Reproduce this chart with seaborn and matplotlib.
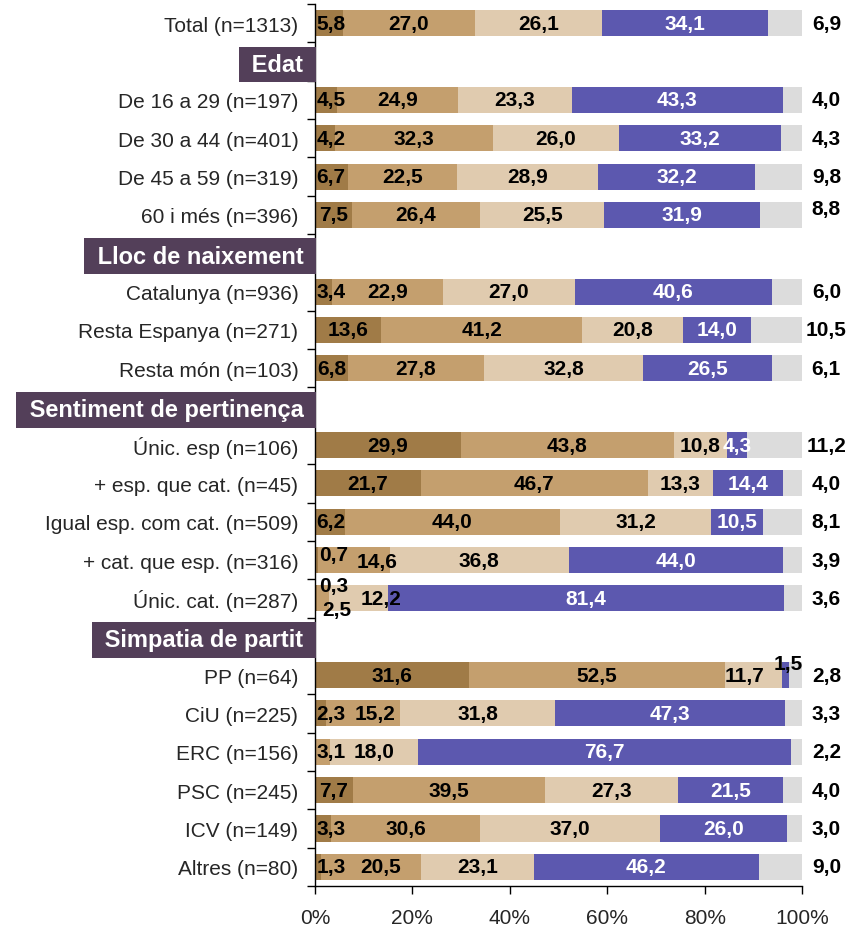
import pandas as pd
import seaborn as sns
import matplotlib.pyplot as plt

# Groups (header None = no header before the block)
headers = [None, "Edat", "Lloc de naixement", "Sentiment de pertinença", "Simpatia de partit"]
groups = [
    ["Total (n=1313)"],
    ["De 16 a 29 (n=197)", "De 30 a 44 (n=401)", "De 45 a 59 (n=319)", "60 i més (n=396)"],
    ["Catalunya (n=936)", "Resta Espanya (n=271)", "Resta món (n=103)"],
    ["Únic. esp (n=106)", "+ esp. que cat. (n=45)", "Igual esp. com cat. (n=509)",
     "+ cat. que esp. (n=316)", "Únic. cat. (n=287)"],
    ["PP (n=64)", "CiU (n=225)", "ERC (n=156)", "PSC (n=245)", "ICV (n=149)", "Altres (n=80)"],
]

# Five answer categories (dark brown, tan, beige, purple, grey)
s1 = [5.8, 4.5, 4.2, 6.7, 7.5, 3.4, 13.6, 6.8, 29.9, 21.7, 6.2, 0.7, 0.3, 31.6, 2.3, 0.0, 7.7, 3.3, 1.3]
s2 = [27.0, 24.9, 32.3, 22.5, 26.4, 22.9, 41.2, 27.8, 43.8, 46.7, 44.0, 14.6, 2.5, 52.5, 15.2, 3.1, 39.5, 30.6, 20.5]
s3 = [26.1, 23.3, 26.0, 28.9, 25.5, 27.0, 20.8, 32.8, 10.8, 13.3, 31.2, 36.8, 12.2, 11.7, 31.8, 18.0, 27.3, 37.0, 23.1]
s4 = [34.1, 43.3, 33.2, 32.2, 31.9, 40.6, 14.0, 26.5, 4.3, 14.4, 10.5, 44.0, 81.4, 1.5, 47.3, 76.7, 21.5, 26.0, 46.2]
s5 = [6.9, 4.0, 4.3, 9.8, 8.8, 6.0, 10.5, 6.1, 11.2, 4.0, 8.1, 3.9, 3.6, 2.8, 3.3, 2.2, 4.0, 3.0, 9.0]

colors = ["#A07B47", "#C49F6E", "#E0CBAF", "#5C58AF", "#DCDCDC"]
header_color = "#533F59"

# slot order including header rows
order = []
for h, rows in zip(headers, groups):
    if h:
        order.append(h)
    order += rows
labels = [r for rows in groups for r in rows]

df = pd.DataFrame({"label": labels, "s1": s1, "s2": s2, "s3": s3, "s4": s4, "s5": s5})
series = ["s1", "s2", "s3", "s4", "s5"]
cum = df[series].cumsum(axis=1)

# manual label tweaks (x position in %, y offset in pixels) where Excel moved labels
tweaks = {
    ("+ cat. que esp. (n=316)", 0): (3.9, 6),
    ("+ cat. que esp. (n=316)", 1): (12.8, -1),
    ("Únic. cat. (n=287)", 0): (3.9, 13),
    ("Únic. cat. (n=287)", 1): (4.5, -11),
    ("Únic. cat. (n=287)", 2): (13.5, 0),
    ("PP (n=64)", 2): (88.2, 0),
    ("PP (n=64)", 3): (97.1, 12),
    ("CiU (n=225)", 1): (12.3, 0),
    ("Altres (n=80)", 1): (13.4, 0),
    ("60 i més (n=396)", 4): (105, 6),
}

sns.set_style("ticks")
plt.rcParams["font.family"] = ["Liberation Sans", "DejaVu Sans"]

fig = plt.figure(figsize=(8.61, 9.29), dpi=100)
ax = fig.add_axes([0.3659, 0.0452, 0.5656, 0.9494])

for k in range(4, -1, -1):
    sns.barplot(data=cum.assign(label=df["label"]), x=series[k], y="label", order=order,
                orient="h", color=colors[k], width=0.68, errorbar=None,
                linewidth=0, saturation=1, ax=ax)

# value labels
pos = {name: i for i, name in enumerate(order)}
for i, row in df.iterrows():
    y = pos[row["label"]]
    start = 0.0
    for k, s in enumerate(series):
        v = row[s]
        if v <= 0:
            continue
        txt = f"{v:.1f}".replace(".", ",")
        ha = "center"
        x = start + v / 2
        dy = 0
        if k == 4:
            x = 105
        elif x < 3.4:
            x, ha = start + 0.3, "left"
        col = "white" if k == 3 else "black"
        if (row["label"], k) in tweaks:
            x, dy = tweaks[(row["label"], k)]
            ha = "center"
            if dy != 0:
                col = "black"
        ax.annotate(txt, (x, y), xytext=(0, dy), textcoords="offset pixels",
                    ha=ha, va="center", fontsize=15, fontweight="bold",
                    color=col, annotation_clip=False)
        start += v

# header boxes
trans = ax.get_yaxis_transform()
for h in headers:
    if h:
        ax.annotate(" " + h + " ", (0, pos[h]), xycoords=trans, xytext=(-5, -3),
                    textcoords="offset pixels", ha="right", va="center",
                    fontsize=17, fontweight="bold", color="white",
                    bbox=dict(boxstyle="square,pad=0.27", fc=header_color, ec="none"))

ax.set_yticks(range(len(order)))
ax.set_yticklabels([o if o in labels else "" for o in order], fontsize=15)
ax.tick_params(axis="y", length=0, pad=12)
ax.set_yticks([i - 0.5 for i in range(len(order) + 1)], minor=True)
ax.tick_params(axis="y", which="minor", length=6, width=1, color="black")

ax.set_xlim(0, 100)
ax.set_xticks([0, 20, 40, 60, 80, 100])
ax.set_xticklabels([f"{t}%" for t in [0, 20, 40, 60, 80, 100]], fontsize=15)
ax.tick_params(axis="x", length=6, width=1, color="black", pad=10)
ax.set_xlabel("")
ax.set_ylabel("")
sns.despine(ax=ax)
for sp in ["left", "bottom"]:
    ax.spines[sp].set_color("black")
    ax.spines[sp].set_linewidth(1)

fig.savefig("out.png", dpi=100)
